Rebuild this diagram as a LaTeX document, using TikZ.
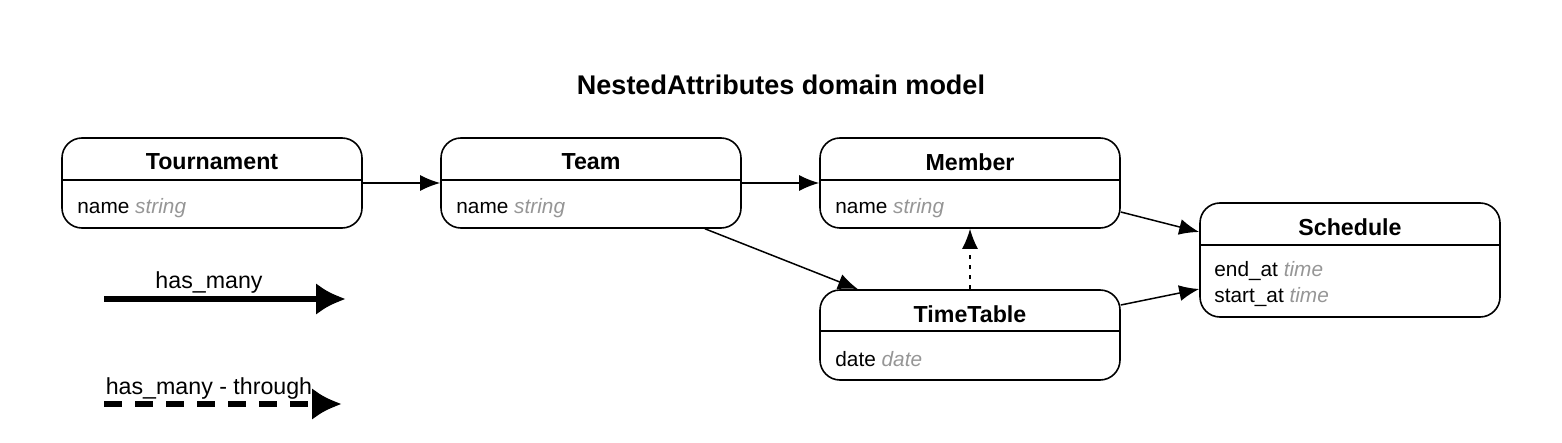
\documentclass[tikz,border=0pt]{standalone}
\usepackage{fontspec}
\setmainfont{Liberation Sans}
\usetikzlibrary{arrows.meta}

\definecolor{typegray}{RGB}{150,150,150}

\begin{document}
\begin{tikzpicture}[x=0.5pt, y=-0.5pt,
    klass/.style = {draw, line width=0.8pt, rounded corners=10pt, minimum width=150pt, inner sep=0pt},
    ktitle/.style = {font=\fontsize{11.6}{13}\selectfont\bfseries},
    attr/.style = {anchor=west, inner sep=0pt, font=\fontsize{10.4}{12}\selectfont},
    rel/.style = {line width=0.75pt, -{Latex[length=10pt, width=8pt]}},
    through/.style = {rel, dash pattern=on 2pt off 3pt}]
      \useasboundingbox (0,0) rectangle (1562,443);
      \node [font=\fontsize{13.5}{16}\selectfont\bfseries] (title) at (781,85) {NestedAttributes domain model};

      % classes
      \node [klass, minimum height=45pt] (tournament) at (212,183) {};
      \node [klass, minimum height=45pt] (team) at (591,183) {};
      \node [klass, minimum height=45pt] (member) at (970,183) {};
      \node [klass, minimum height=45pt] (timetable) at (970,335) {};
      \node [klass, minimum height=57pt] (schedule) at (1350,260) {};

      \node [ktitle] (tournament-t) at (212,162) {Tournament};
      \node [ktitle] (team-t) at (591,162) {Team};
      \node [ktitle] (member-t) at (970,162) {Member};
      \node [ktitle] (timetable-t) at (970,314) {TimeTable};
      \node [ktitle] (schedule-t) at (1350,227) {Schedule};

      \foreach \n/\y in {tournament/180, team/180, member/180, timetable/331, schedule/245}
               {
                 \draw [line width=0.8pt] (\n.west |- 0,\y) -- (\n.east |- 0,\y);
               }

      \node [attr] (tournament-a) at (77,208) {name \textcolor{typegray}{\itshape string}};
      \node [attr] (team-a) at (456,208) {name \textcolor{typegray}{\itshape string}};
      \node [attr] (member-a) at (835,208) {name \textcolor{typegray}{\itshape string}};
      \node [attr] (timetable-a) at (835,359) {date \textcolor{typegray}{\itshape date}};
      \node [attr] (schedule-a1) at (1214,271) {end\_at \textcolor{typegray}{\itshape time}};
      \node [attr] (schedule-a2) at (1214,297) {start\_at \textcolor{typegray}{\itshape time}};

      % relations
      \draw [rel] (tournament.east |- 0,183) -- (team.west |- 0,183);
      \draw [rel] (team.east |- 0,183) -- (member.west |- 0,183);
      \draw [rel] (team.south -| 705,0) -- (timetable.north -| 858,0);
      \draw [rel] (member.east |- 0,212) -- (schedule.west |- 0,232);
      \draw [rel] (timetable.east |- 0,305) -- (schedule.west |- 0,289);
      \draw [through] (timetable.north) -- (member.south);

      % legend
      \coordinate (hm-a) at (104,299);
      \coordinate (hm-b) at (346,299);
      \coordinate (hmt-a) at (104,404);
      \coordinate (hmt-b) at (342,404);
      \draw [line width=3pt, -{Latex[length=15pt, width=16pt]}] (hm-a) -- node[above=-2pt, xshift=-8pt, font=\fontsize{11.6}{13}\selectfont] (hm-l) {has\_many} (hm-b);
      \draw [line width=3pt, dash pattern=on 9pt off 6.5pt, -{Latex[length=15pt, width=16pt]}] (hmt-a) -- node[above=-2.5pt, xshift=-7pt, font=\fontsize{11.6}{13}\selectfont] (hmt-l) {has\_many - through} (hmt-b);
\end{tikzpicture}
\end{document}
